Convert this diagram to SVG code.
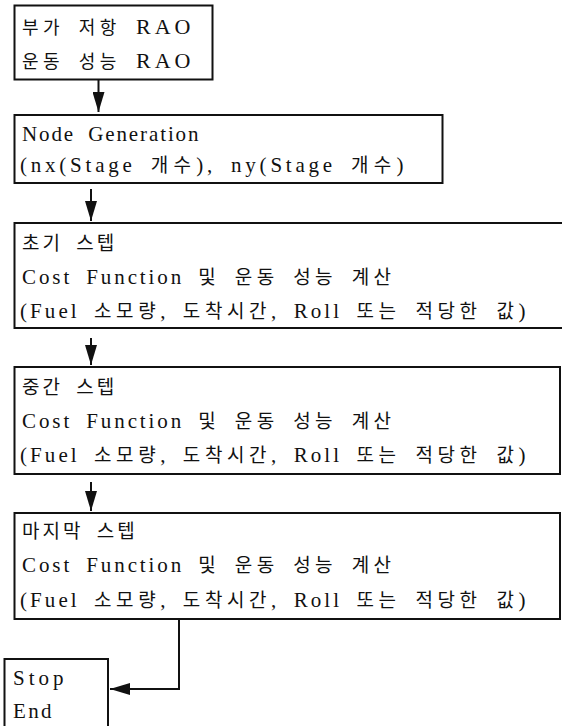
<svg xmlns="http://www.w3.org/2000/svg" width="562" height="726" viewBox="0 0 562 726">
<style>
.b{fill:#fff;stroke:#111;stroke-width:2}
.t{font-family:"Liberation Serif","Noto Sans CJK KR",serif;font-size:21px;fill:#111;letter-spacing:1.5px;word-spacing:6px}
.k{font-family:"Noto Sans CJK KR","Liberation Serif",sans-serif;font-size:19px;letter-spacing:3px}
.k1{font-family:"Noto Sans CJK KR","Liberation Serif",sans-serif;font-size:18px;letter-spacing:2px}
.r{font-size:22px}
.c{stroke:#111;stroke-width:2;fill:none}
</style>
<defs>
<marker id="ah" viewBox="0 0 20 12" refX="20" refY="6" markerWidth="20" markerHeight="12" markerUnits="userSpaceOnUse" orient="auto">
<path d="M0,0 L20,6 L0,12 z" fill="#111"/>
</marker>
</defs>
<rect width="562" height="726" fill="#fff"/>
<g id="connectors">
<line class="c" x1="98.5" y1="80" x2="98.5" y2="112" marker-end="url(#ah)"/>
<line class="c" x1="91" y1="189" x2="91" y2="221" marker-end="url(#ah)"/>
<line class="c" x1="91" y1="338" x2="91" y2="365" marker-end="url(#ah)"/>
<line class="c" x1="91" y1="482" x2="91" y2="511" marker-end="url(#ah)"/>
<polyline class="c" points="179,619 179,689 110,689" marker-end="url(#ah)"/>
</g>
<g id="rao">
<rect class="b" x="14.5" y="5.5" width="198" height="74"/>
<text class="t" x="22" y="34" textLength="170" lengthAdjust="spacing"><tspan class="k1">부가 저항</tspan> <tspan class="r">RAO</tspan></text>
<text class="t" x="22" y="68" textLength="170" lengthAdjust="spacing"><tspan class="k1">운동 성능</tspan> <tspan class="r">RAO</tspan></text>
</g>
<g id="node-generation">
<rect class="b" x="14.5" y="115" width="428" height="68"/>
<text class="t" x="22" y="141" textLength="178" lengthAdjust="spacing">Node Generation</text>
<text class="t" x="20" y="172" textLength="385" lengthAdjust="spacing">(nx(Stage <tspan class="k">개수</tspan>), ny(Stage <tspan class="k">개수</tspan>)</text>
</g>
<g id="initial-step">
<rect class="b" x="14.5" y="223" width="560" height="105"/>
<text class="t" x="22" y="250"><tspan class="k">초기 스텝</tspan></text>
<text class="t" x="22" y="284" textLength="372" lengthAdjust="spacing">Cost Function <tspan class="k">및 운동 성능 계산</tspan></text>
<text class="t" x="20" y="318" textLength="507" lengthAdjust="spacing">(Fuel <tspan class="k">소모량</tspan>, <tspan class="k">도착시간</tspan>, Roll <tspan class="k">또는 적당한 값</tspan>)</text>
</g>
<g id="middle-step">
<rect class="b" x="14.5" y="367" width="545.5" height="107"/>
<text class="t" x="22" y="394"><tspan class="k">중간 스텝</tspan></text>
<text class="t" x="22" y="428" textLength="372" lengthAdjust="spacing">Cost Function <tspan class="k">및 운동 성능 계산</tspan></text>
<text class="t" x="20" y="462" textLength="507" lengthAdjust="spacing">(Fuel <tspan class="k">소모량</tspan>, <tspan class="k">도착시간</tspan>, Roll <tspan class="k">또는 적당한 값</tspan>)</text>
</g>
<g id="final-step">
<rect class="b" x="14.5" y="513" width="545.5" height="106"/>
<text class="t" x="22" y="538"><tspan class="k">마지막 스텝</tspan></text>
<text class="t" x="22" y="572" textLength="372" lengthAdjust="spacing">Cost Function <tspan class="k">및 운동 성능 계산</tspan></text>
<text class="t" x="20" y="607" textLength="507" lengthAdjust="spacing">(Fuel <tspan class="k">소모량</tspan>, <tspan class="k">도착시간</tspan>, Roll <tspan class="k">또는 적당한 값</tspan>)</text>
</g>
<g id="stop-end">
<rect class="b" x="4.5" y="659" width="103.5" height="80"/>
<text class="t" x="13" y="685" textLength="52" lengthAdjust="spacing">Stop</text>
<text class="t" x="13" y="718" textLength="40" lengthAdjust="spacing">End</text>
</g>
</svg>
